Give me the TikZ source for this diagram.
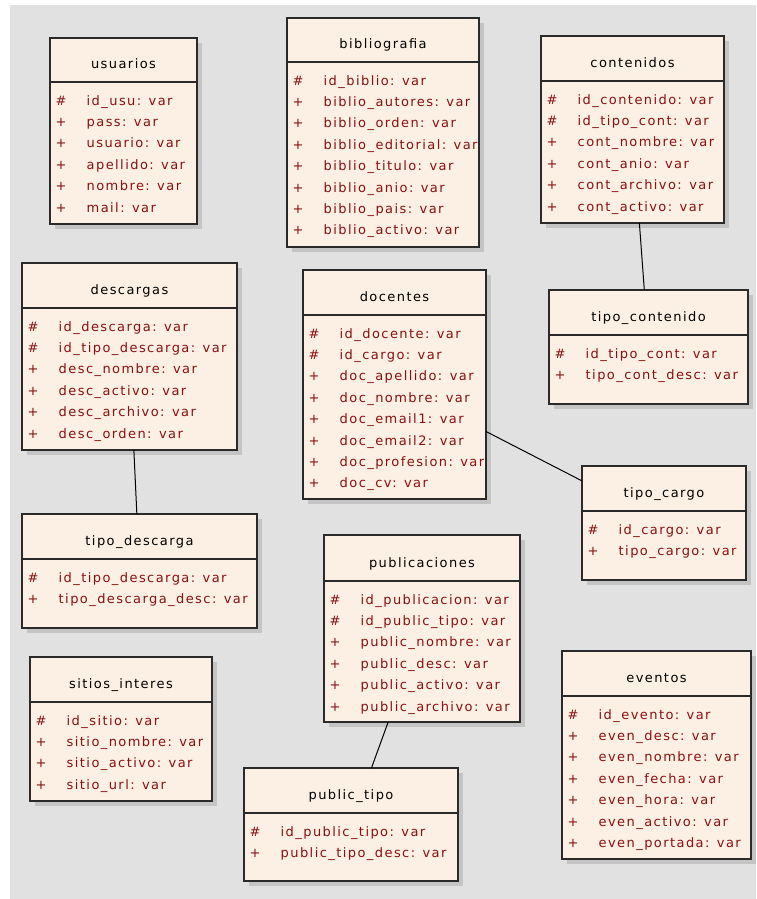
\documentclass[tikz,border=0pt]{standalone}
\usepackage{fontspec}
\setmainfont{DejaVu Sans}
\newfontfamily\umlfont[LetterSpace=11]{DejaVu Sans}
\definecolor{bgc}{HTML}{E1E1E1}
\definecolor{boxfill}{HTML}{FBF0E3}
\definecolor{shadowc}{HTML}{C4C4C4}
\definecolor{rowred}{HTML}{8A1010}
\definecolor{edgec}{HTML}{2A2A2A}
\tikzset{
  tbox/.style={draw=edgec, line width=1.5pt, fill=boxfill, rectangle, inner sep=0pt, outer sep=0pt},
  divline/.style={draw=edgec, line width=1.5pt},
  titletext/.style={font=\umlfont\fontsize{13}{15}\selectfont, text=black, inner sep=0pt, text height=9.5pt, text depth=3pt},
  symtext/.style={font=\umlfont\fontsize{13}{15}\selectfont, text=rowred, inner sep=0pt, text height=9.5pt, text depth=3pt},
  rowtext/.style={font=\umlfont\fontsize{13}{15}\selectfont, text=rowred, inner sep=0pt, text height=9.5pt, text depth=3pt, anchor=west},
  conn/.style={draw=black, line width=1pt},
}
% #1 name, #2 left, #3 top, #4 right, #5 bottom, #6 divider, #7 title, #8 rows
\newcommand\umltable[8]{%
  \fill[shadowc] (#2+5,#3+5) rectangle (#4+5,#5+5);
  \node[tbox, minimum width={(#4-#2)*1pt}, minimum height={(#5-#3)*1pt}] (#1) at ({(#2+#4)/2},{(#3+#5)/2}) {};
  \draw[divline] (#1.west |- 0,#6) -- (#1.east |- 0,#6);
  \node[titletext] (#1-title) at ({(#2+#4)/2},#6-17) {#7};
  \begin{scope}
    \clip (#2,#3) rectangle (#4-1,#5);
    \foreach \s/\t [count=\i from 0] in {#8} {
      \node[symtext] at (#2+11,#6+19.8+21.4*\i) {\s};
      \node[rowtext] at (#2+36.5,#6+19.8+21.4*\i) {\t};
    }
  \end{scope}
}
\begin{document}
\begin{tikzpicture}[x=1pt,y=-1pt]
\useasboundingbox (0,0) rectangle (756,899);
\fill[white] (0,0) rectangle (756,899);
\fill[bgc] (10,5) rectangle (756,899);

\umltable{usuarios}{50}{38}{197}{224}{82}{usuarios}{\#/id\_usu: var,+/pass: var,+/usuario: var,+/apellido: var,+/nombre: var,+/mail: var}
\umltable{bibliografia}{287}{18}{479}{247}{62}{bibliografia}{\#/id\_biblio: var,+/biblio\_autores: var,+/biblio\_orden: var,+/biblio\_editorial: var,+/biblio\_titulo: var,+/biblio\_anio: var,+/biblio\_pais: var,+/biblio\_activo: var}
\umltable{contenidos}{541}{36}{724}{223}{81}{contenidos}{\#/id\_contenido: var,\#/id\_tipo\_cont: var,+/cont\_nombre: var,+/cont\_anio: var,+/cont\_archivo: var,+/cont\_activo: var}
\umltable{tipocontenido}{549}{290}{748}{404}{335}{tipo\_contenido}{\#/id\_tipo\_cont: var,+/tipo\_cont\_desc: var}
\umltable{descargas}{22}{263}{237}{450}{308}{descargas}{\#/id\_descarga: var,\#/id\_tipo\_descarga: var,+/desc\_nombre: var,+/desc\_activo: var,+/desc\_archivo: var,+/desc\_orden: var}
\umltable{tipodescarga}{22}{514}{257}{628}{559}{tipo\_descarga}{\#/id\_tipo\_descarga: var,+/tipo\_descarga\_desc: var}
\umltable{docentes}{303}{270}{486}{499}{315}{docentes}{\#/id\_docente: var,\#/id\_cargo: var,+/doc\_apellido: var,+/doc\_nombre: var,+/doc\_email1: var,+/doc\_email2: var,+/doc\_profesion: var,+/doc\_cv: var}
\umltable{tipocargo}{582}{466}{746}{580}{511}{tipo\_cargo}{\#/id\_cargo: var,+/tipo\_cargo: var}
\umltable{sitios}{30}{657}{212}{801}{702}{sitios\_interes}{\#/id\_sitio: var,+/sitio\_nombre: var,+/sitio\_activo: var,+/sitio\_url: var}
\umltable{publicaciones}{324}{535}{520}{722}{581}{publicaciones}{\#/id\_publicacion: var,\#/id\_public\_tipo: var,+/public\_nombre: var,+/public\_desc: var,+/public\_activo: var,+/public\_archivo: var}
\umltable{publictipo}{244}{768}{458}{881}{813}{public\_tipo}{\#/id\_public\_tipo: var,+/public\_tipo\_desc: var}
\umltable{eventos}{562}{651}{751}{859}{696}{eventos}{\#/id\_evento: var,+/even\_desc: var,+/even\_nombre: var,+/even\_fecha: var,+/even\_hora: var,+/even\_activo: var,+/even\_portada: var}

\draw[conn] (contenidos) -- (tipocontenido);
\draw[conn] (descargas) -- (tipodescarga);
\draw[conn] (docentes) -- (tipocargo);
\draw[conn] (publicaciones) -- (publictipo);
\end{tikzpicture}
\end{document}
